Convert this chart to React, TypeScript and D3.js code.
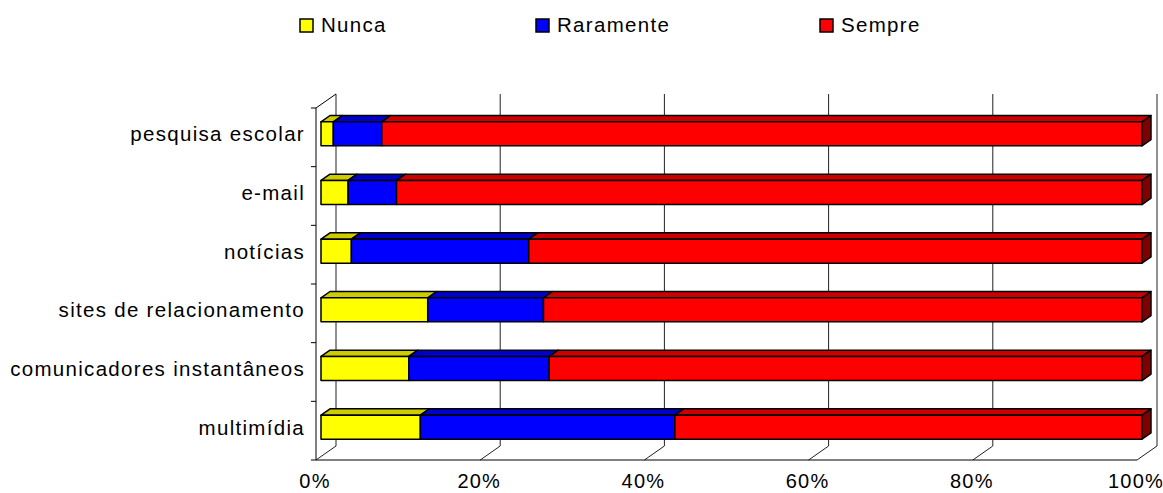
import React from "react";
import * as d3 from "d3";

const categories = [
  "pesquisa escolar",
  "e-mail",
  "notícias",
  "sites de relacionamento",
  "comunicadores instantâneos",
  "multimídia",
];
const nunca = [1.5, 3.3, 3.7, 13.0, 10.7, 12.1];
const raramente = [5.9, 5.9, 21.6, 14.1, 17.1, 31.0];
const sempre = [92.6, 90.8, 74.7, 72.9, 72.2, 56.9];
const seriesNames = ["Nunca", "Raramente", "Sempre"];
const tickValues = [0, 20, 40, 60, 80, 100];

const front = ["#ffff00", "#0000ff", "#ff0000"];
const top = ["#cccc00", "#0000cc", "#cc0000"];
const endColor = "#800000";

const W = 1163;
const H = 493;
// 3D depth offset of the whole plot box
const DX = 20;
const DY = -14;
const Z0 = 0.25;
const Z1 = 0.7;

const font = "'Liberation Sans', Arial, sans-serif";

export default function App() {
  const x = d3.scaleLinear().domain([0, 100]).range([316, 1137]);
  const y = d3.scaleBand().domain(categories).range([108, 460]);
  const barH = y.bandwidth() * 0.41;

  const rows = categories.map((c, i) => ({
    cat: c,
    Nunca: nunca[i],
    Raramente: raramente[i],
    Sempre: sempre[i],
  }));
  const stacked = d3.stack().keys(seriesNames)(rows as any);

  const yTop = (c: string) =>
    y(c)! + y.bandwidth() / 2 + DY * Z0 - barH / 2;

  const pt = (px: number, py: number) => `${px},${py}`;

  return (
    <svg
      width={W}
      height={H}
      style={{ position: "absolute", left: 0, top: 0 }}
      fontFamily={font}
    >
      <rect width={W} height={H} fill="#fff" />

      {/* back wall gridlines and floor diagonals */}
      {tickValues.map((t) => (
        <g key={t} stroke="#222" strokeWidth={1} fill="none">
          <line x1={x(t) + DX} x2={x(t) + DX} y1={108 + DY} y2={460 + DY} />
          <line x1={x(t)} y1={460} x2={x(t) + DX} y2={460 + DY} />
        </g>
      ))}
      {/* left wall */}
      <g stroke="#000" strokeWidth={1} fill="none">
        <line x1={316} x2={316} y1={108} y2={460} />
        <line x1={316} y1={108} x2={316 + DX} y2={108 + DY} />
        <line x1={316} x2={1137} y1={460} y2={460} />
        {categories.map((c) => (
          <line key={c} x1={311} x2={316} y1={y(c)} y2={y(c)} />
        ))}
        <line x1={311} x2={316} y1={460} y2={460} />
      </g>

      {/* bars */}
      {stacked.map((s, si) =>
        s.map((d, i) => {
          const c = categories[i];
          const t0 = yTop(c);
          const x0 = x(d[0]) + DX * Z0;
          const x1 = x(d[1]) + DX * Z0;
          const ddx = DX * (Z1 - Z0);
          const ddy = DY * (Z1 - Z0);
          return (
            <g key={`${si}-${i}`} stroke="#000" strokeWidth={1.5} strokeLinejoin="round">
              <polygon
                points={[
                  pt(x0, t0),
                  pt(x1, t0),
                  pt(x1 + ddx, t0 + ddy),
                  pt(x0 + ddx, t0 + ddy),
                ].join(" ")}
                fill={top[si]}
              />
              <rect x={x0} y={t0} width={x1 - x0} height={barH} fill={front[si]} />
              {si === seriesNames.length - 1 && (
                <polygon
                  points={[
                    pt(x1, t0),
                    pt(x1 + ddx, t0 + ddy),
                    pt(x1 + ddx, t0 + ddy + barH),
                    pt(x1, t0 + barH),
                  ].join(" ")}
                  fill={endColor}
                />
              )}
            </g>
          );
        })
      )}

      {/* category labels */}
      {categories.map((c) => (
        <text
          key={c}
          x={305}
          y={yTop(c) + barH / 2}
          dy="0.36em"
          textAnchor="end"
          fontSize={20.5}
          letterSpacing={1.3}
          fill="#000"
        >
          {c}
        </text>
      ))}

      {/* x tick labels */}
      {tickValues.map((t) => (
        <text
          key={t}
          x={x(t) - 1}
          y={488}
          textAnchor="middle"
          fontSize={20}
          letterSpacing={1.2}
          fill="#000"
        >
          {t}%
        </text>
      ))}

      {/* legend */}
      {seriesNames.map((n, i) => {
        const lx = [300, 536, 820][i];
        return (
          <g key={n}>
            <rect x={lx} y={19} width={13} height={13} fill={front[i]} stroke="#000" strokeWidth={1.5} />
            <text x={lx + 21} y={32} fontSize={20.5} letterSpacing={1.3} fill="#000">
              {n}
            </text>
          </g>
        );
      })}
    </svg>
  );
}
